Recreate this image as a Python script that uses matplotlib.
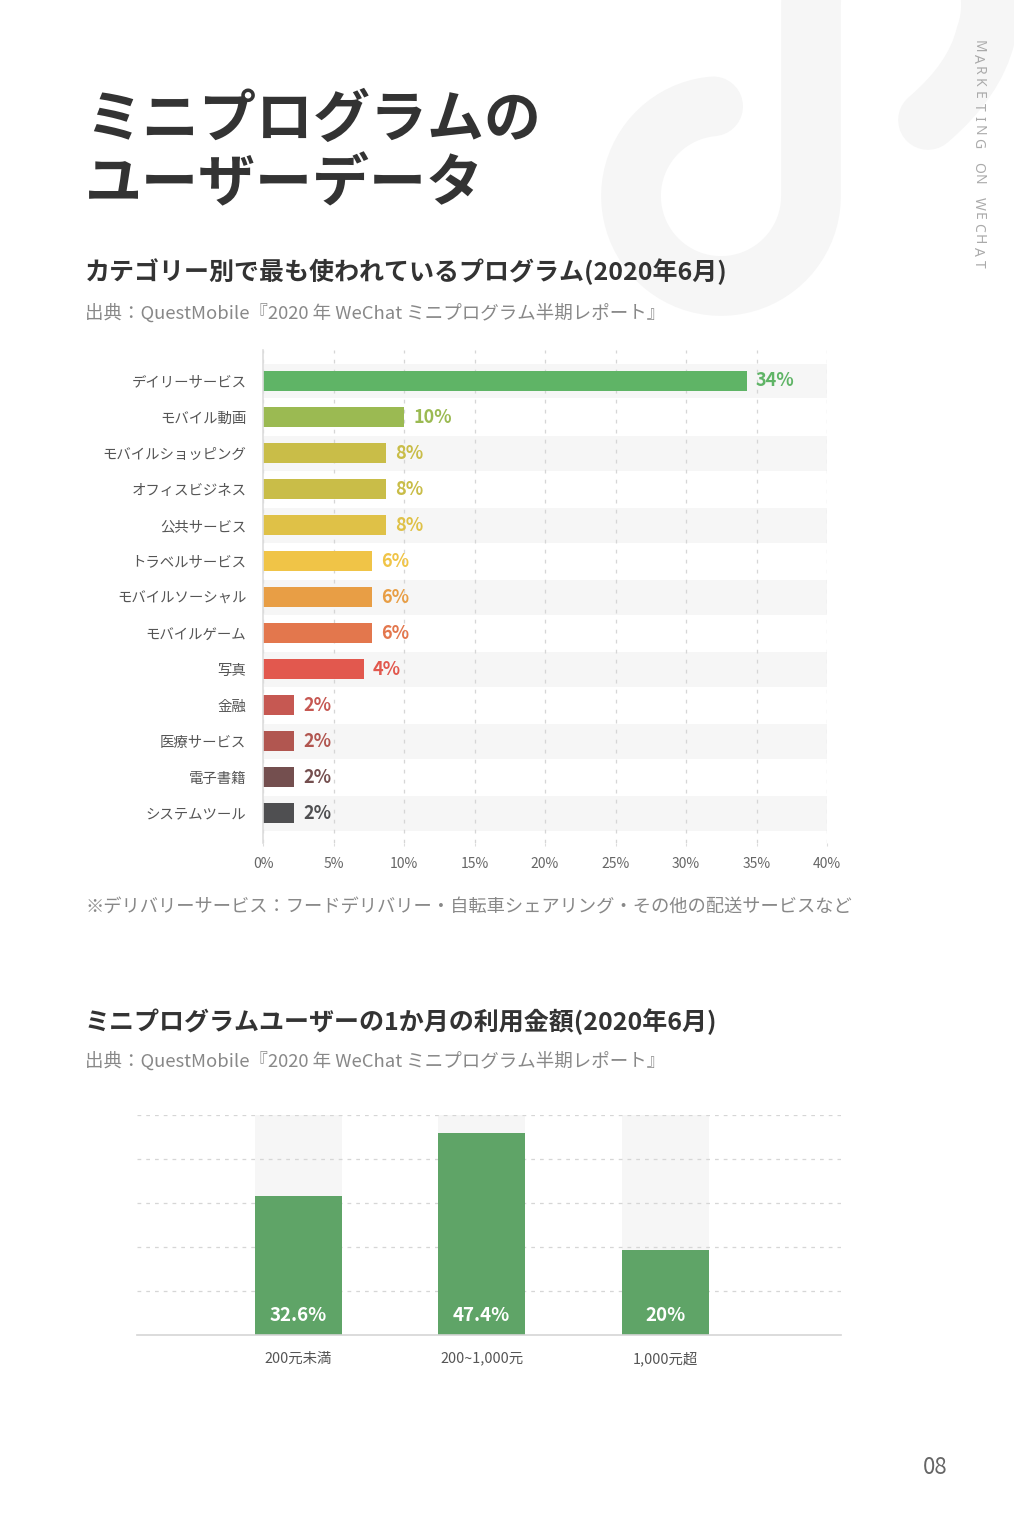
import matplotlib
matplotlib.use("Agg")
import matplotlib.pyplot as plt
import numpy as np
from matplotlib.path import Path
from matplotlib.patches import PathPatch

plt.rcParams['font.family'] = ['Noto Sans CJK JP', 'DejaVu Sans']

W, H = 1014, 1534

# chart 1: categories, drawn bar lengths (%), printed labels
categories = ["デイリーサービス", "モバイル動画", "モバイルショッピング", "オフィスビジネス",
              "公共サービス", "トラベルサービス", "モバイルソーシャル", "モバイルゲーム",
              "写真", "金融", "医療サービス", "電子書籍", "システムツール"]
share_len = [34.3, 10.0, 8.75, 8.75, 8.75, 7.75, 7.75, 7.75, 7.15, 2.2, 2.2, 2.2, 2.2]
share_lbl = ["34%", "10%", "8%", "8%", "8%", "6%", "6%", "6%", "4%", "2%", "2%", "2%", "2%"]
bar_colors = ["#5fb466", "#9bba52", "#c9bd48", "#c9bd48", "#dfc147", "#f0c447", "#e89e45",
              "#e3774d", "#e2584e", "#c65852", "#b15650", "#744f4f", "#4f4f51"]
x_ticks = [0, 5, 10, 15, 20, 25, 30, 35, 40]

# chart 2: monthly spend
spend_cats = ["200元未満", "200~1,000元", "1,000元超"]
spend_vals = [32.6, 47.4, 20.0]
spend_top = 51.7

fig = plt.figure(figsize=(W / 100, H / 100), dpi=100)


def px(x, y):
    return x / W, 1 - y / H


# decorative mini-program mark in the corner
deco = fig.add_axes([0, 0, 1, 1], zorder=0)
deco.set_xlim(0, W)
deco.set_ylim(H, 0)
deco.axis("off")
t1 = np.radians(np.linspace(95, 360, 60))
arc = [(721 + 90 * np.cos(t), 196 - 90 * np.sin(t)) for t in t1]
t2 = np.radians(np.linspace(180, -20, 50))
loop = [(901 + 90 * np.cos(t), 5 - 90 * np.sin(t)) for t in t2]
verts = arc + [(811, 5)] + loop + [(975, 80), (928, 120)]
codes = [Path.MOVETO] + [Path.LINETO] * (len(arc) + len(loop)) + [Path.CURVE3, Path.CURVE3]
deco.add_patch(PathPatch(Path(verts, codes), facecolor="none", edgecolor="#f6f6f6",
                         lw=43, capstyle="round", joinstyle="round"))

# headline texts
fig.text(*px(85, 120), "ミニプログラムの", fontsize=41, fontweight="bold", color="#333333", va="center")
fig.text(*px(85, 184), "ユーザーデータ", fontsize=41, fontweight="bold", color="#333333", va="center")
fig.text(*px(85, 272), "カテゴリー別で最も使われているプログラム(2020年6月)", fontsize=18,
         fontweight="bold", color="#333333", va="center")
src = "出典：QuestMobile『2020 年 WeChat ミニプログラム半期レポート』"
fig.text(*px(85, 313), src, fontsize=13.3, color="#888888", va="center")
fig.text(*px(85, 908), "※デリバリーサービス：フードデリバリー・自転車シェアリング・その他の配送サービスなど",
         fontsize=13.15, color="#888888", va="center")
fig.text(*px(85, 1022), "ミニプログラムユーザーの1か月の利用金額(2020年6月)", fontsize=18,
         fontweight="bold", color="#333333", va="center")
fig.text(*px(85, 1061), src, fontsize=13.3, color="#888888", va="center")
fig.text(*px(935, 1468), "08", fontsize=16, color="#666666", ha="center", va="center")

side = "MARKETING ON WECHAT"
for i, ch in enumerate(side):
    fig.text(*px(978, 46 + i * 12.1), ch, fontsize=10, color="#aaaaaa", rotation=-90,
             ha="center", va="center", family=["Noto Sans", "DejaVu Sans"], fontweight="light")

# chart 1
ax = fig.add_axes([263 / W, 1 - 843 / H, (827 - 263) / W, (843 - 350) / H], zorder=1)
ax.set_facecolor("none")
rows = np.arange(len(categories))
ax.barh(rows[::2], x_ticks[-1], height=0.97, left=0, color="#f6f6f6", zorder=0.2)
ax.barh(rows, share_len, height=0.56, color=bar_colors, zorder=2)
for r, v, lab, c in zip(rows, share_len, share_lbl, bar_colors):
    ax.annotate(lab, (v, r), xytext=(6.5, 0), textcoords="offset points", ha="left", va="center",
                fontsize=13, fontweight="bold", color=c)
ax.set_xlim(0, 40)
ax.set_ylim(12.825, -0.86)
ax.set_xticks(x_ticks)
ax.set_xticklabels([f"{t}%" for t in x_ticks])
ax.set_yticks(rows)
ax.set_yticklabels(categories)
ax.set_axisbelow(True)
ax.grid(axis="x", color="#d6d6d6", linestyle=(0, (3, 5)), linewidth=0.9)
ax.grid(axis="y", visible=False)
for s in ["top", "right", "bottom"]:
    ax.spines[s].set_visible(False)
ax.spines["left"].set_color("#dddddd")
ax.spines["left"].set_linewidth(1.2)
ax.tick_params(axis="x", length=2, color="#dddddd", pad=8, labelsize=10, labelcolor="#666666")
ax.tick_params(axis="y", length=0, pad=12, labelsize=10.4, labelcolor="#555555")

# chart 2
ax2 = fig.add_axes([137 / W, 1 - 1335 / H, (841 - 137) / W, (1335 - 1115) / H], zorder=1)
ax2.set_facecolor("none")
xs = np.arange(len(spend_cats))
ax2.bar(xs, spend_top, width=0.474, color="#f6f6f6", zorder=0.2)
ax2.bar(xs, spend_vals, width=0.474, color="#5fa467", zorder=2)
for x, v in zip(xs, spend_vals):
    ax2.annotate(f"{v:g}%", (x, 0), xytext=(0, 13.7), textcoords="offset points", ha="center",
                 va="center", fontsize=13.5, fontweight="bold", color="white", zorder=3)
ax2.set_xlim(-0.877, 2.957)
ax2.set_ylim(0, spend_top)
ax2.set_yticks(np.linspace(0, spend_top, 6)[1:])
ax2.set_yticklabels([])
ax2.set_xticks(xs)
ax2.set_xticklabels(spend_cats)
ax2.set_axisbelow(True)
ax2.grid(axis="y", color="#d6d6d6", linestyle=(0, (3, 4)), linewidth=0.9)
for s in ["top", "right", "left"]:
    ax2.spines[s].set_visible(False)
ax2.spines["bottom"].set_color("#d5d5d5")
ax2.spines["bottom"].set_linewidth(1.2)
ax2.tick_params(axis="y", length=0)
ax2.tick_params(axis="x", length=0, pad=12, labelsize=10.4, labelcolor="#555555")

fig.savefig("out.png", dpi=100, facecolor="white")
